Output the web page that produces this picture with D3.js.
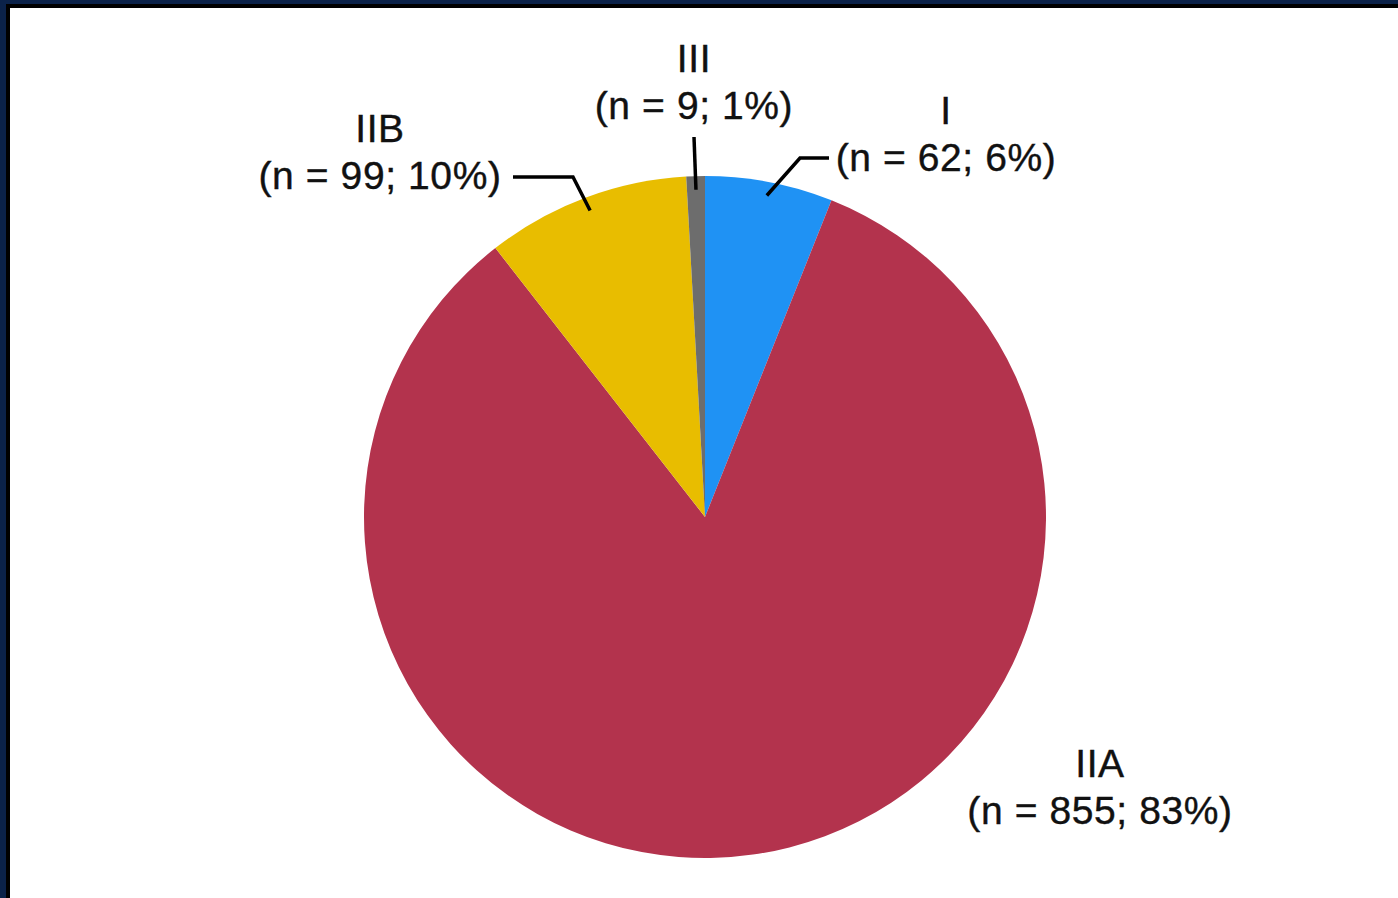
<!DOCTYPE html>
<html>
<head>
<meta charset="utf-8">
<script src="https://cdn.jsdelivr.net/npm/d3@7"></script>
<style>
  html, body { margin: 0; padding: 0; background: #fff; }
  svg { display: block; }
  .lbl { font-family: "Liberation Sans", Arial, Helvetica, sans-serif; font-size: 39px; letter-spacing: 0.6px; fill: #111; stroke: #111; stroke-width: 0.4px; }
</style>
</head>
<body>
<svg id="chart" width="1398" height="898"></svg>
<script>
// data
var stages = ["I", "IIA", "IIB", "III"];
var counts = [62, 855, 99, 9];
var percents = [6, 83, 10, 1];
var colors = ["#1f92f4", "#b3334d", "#e8bd00", "#6d6d6d"];

// label layout (text anchor + elbow of leader line)
var labelPos = {
  "I":   { x: 946, y: 124, elbow: [[800, 158], [829, 158]] },
  "IIA": { x: 1100, y: 777, elbow: null },
  "IIB": { x: 380, y: 142, elbow: [[573, 177], [513, 177]] },
  "III": { x: 694, y: 72, elbow: [[694, 137]] }
};

var svg = d3.select("#chart"),
  width = +svg.attr("width"),
  height = +svg.attr("height"),
  cx = 705, cy = 517, radius = 341;

// frame
svg.append("rect").attr("x", 0).attr("y", 0).attr("width", width).attr("height", 8).attr("fill", "#000");
svg.append("rect").attr("x", 0).attr("y", 0).attr("width", 10).attr("height", height).attr("fill", "#000");
svg.append("rect").attr("x", 0).attr("y", 0).attr("width", width).attr("height", 4).attr("fill", "#0b2249");
svg.append("rect").attr("x", 0).attr("y", 0).attr("width", 6).attr("height", height).attr("fill", "#0b2249");

var data = stages.map(function (s, i) {
  return { stage: s, n: counts[i], pct: percents[i], color: colors[i] };
});

var pie = d3.pie().sort(null).value(function (d) { return d.n; });
var arc = d3.arc().innerRadius(0).outerRadius(radius);
var arcs = pie(data);

var g = svg.append("g").attr("transform", "translate(" + cx + "," + cy + ")");

g.selectAll("path.slice")
  .data(arcs)
  .enter().append("path")
  .attr("class", "slice")
  .attr("d", arc)
  .attr("fill", function (d) { return d.data.color; });

// leader lines: start inside slice at mid-angle
var inner = d3.arc().innerRadius(radius * 0.96).outerRadius(radius * 0.96);

arcs.forEach(function (d) {
  var lp = labelPos[d.data.stage];
  if (lp.elbow) {
    var c = inner.centroid(d);
    var pts = [[cx + c[0], cy + c[1]]].concat(lp.elbow);
    svg.append("path")
      .attr("d", d3.line()(pts))
      .attr("fill", "none")
      .attr("stroke", "#000")
      .attr("stroke-width", 3.5);
  }
  var t = svg.append("text")
    .attr("class", "lbl")
    .attr("text-anchor", "middle")
    .attr("x", lp.x)
    .attr("y", lp.y);
  t.append("tspan").attr("x", lp.x).text(d.data.stage);
  t.append("tspan").attr("x", lp.x).attr("dy", 47)
    .text("(n = " + d.data.n + "; " + d.data.pct + "%)");
});
</script>
</body>
</html>
